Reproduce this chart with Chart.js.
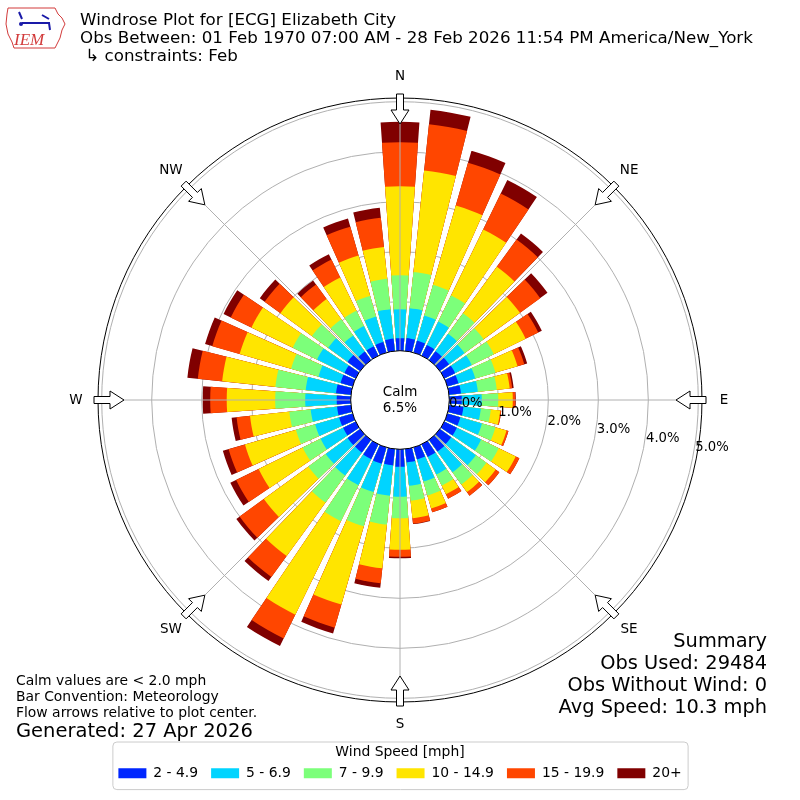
<!DOCTYPE html>
<html>
<head>
<meta charset="utf-8">
<title>Windrose Plot for [ECG] Elizabeth City</title>
<script src="https://cdn.jsdelivr.net/npm/chart.js@4.4.1/dist/chart.umd.min.js"></script>
<style>
  html, body { margin: 0; padding: 0; background: #fff; }
  #wrap { width: 800px; height: 800px; position: relative; }
</style>
</head>
<body>
<div id="wrap"><canvas id="windrose"></canvas></div>
<script>
// wind directions (degrees, meteorological), one bar each
const directions = [0, 10, 20, 30, 40, 50, 60, 70, 80, 90, 100, 110, 120, 130, 140, 150, 160, 170,
  180, 190, 200, 210, 220, 230, 240, 250, 260, 270, 280, 290, 300, 310, 320, 330, 340, 350];

const speedBins = ['2 - 4.9', '5 - 6.9', '7 - 9.9', '10 - 14.9', '15 - 19.9', '20+'];
const binColors = ['#0026ff', '#00d4ff', '#7cff7a', '#ffe500', '#ff4600', '#800000'];

// frequency (%) per direction for each speed bin
const speed2to5 = [.27, .28, .27, .26, .24, .25, .26, .25, .26, .27, .31, .29, .30, .30, .31, .30, .27, .29,
  .37, .35, .36, .35, .33, .33, .30, .30, .30, .30, .32, .27, .27, .33, .23, .23, .24, .27];
const speed5to7 = [.58, .60, .52, .52, .43, .38, .37, .35, .34, .40, .35, .45, .54, .61, .51, .39, .46, .47,
  .60, .61, .59, .58, .57, .54, .50, .50, .53, .63, .61, .46, .61, .48, .40, .45, .53, .59];
const speed7to10 = [.68, .73, .64, .58, .51, .47, .49, .42, .38, .33, .20, .28, .39, .26, .30, .25, .29, .30,
  .43, .58, .71, .80, .67, .43, .40, .40, .43, .60, .61, .57, .54, .40, .40, .34, .43, .61];
const speed10to15 = [1.78, 2.04, 1.65, 1.47, 1.15, .90, .71, .46, .26, .29, .19, .23, .38, .23, .19, .19, .27, .35,
  .63, .88, 1.63, 2.08, 1.32, 1.10, .98, 1.06, .79, .97, 1.07, 1.07, .92, .78, .50, .74, .84, .64];
const speed15to20 = [.88, .93, .89, .80, .67, .50, .28, .14, .05, .05, .02, .04, .08, .09, .09, .10, .08, .11,
  .14, .30, .48, .53, .52, .60, .50, .34, .27, .33, .49, .57, .46, .39, .36, .40, .60, .59];
const speed20plus = [.41, .29, .25, .30, .15, .18, .08, .06, .03, .01, 0, 0, 0, 0, 0, 0, 0, .01,
  .03, .09, .12, .17, .10, .08, .13, .12, .10, .15, .21, .15, .16, .12, .10, .12, .17, .20];

const ringValues = [0, 1, 2, 3, 4, 5];
const ringLabels = ['0.0%', '1.0%', '2.0%', '3.0%', '4.0%', '5.0%'];
const compassLabels = ['N', 'NE', 'E', 'SE', 'S', 'SW', 'W', 'NW'];
const calmLabel = 'Calm';
const calmPercent = '6.5%';

const titleLines = ['Windrose Plot for [ECG] Elizabeth City',
  'Obs Between: 01 Feb 1970 07:00 AM - 28 Feb 2026 11:54 PM America/New_York',
  ' \u21b3 constraints: Feb'];
const noteLines = ['Calm values are < 2.0 mph', 'Bar Convention: Meteorology', 'Flow arrows relative to plot center.'];
const generatedText = 'Generated: 27 Apr 2026';
const summaryLines = ['Summary', 'Obs Used: 29484', 'Obs Without Wind: 0', 'Avg Speed: 10.3 mph'];

const RMIN = -0.966;   // offset so that 0% sits on the calm circle
const RMAX = 5.074;
const BAR_ANGLE = 8;
const GAP_ANGLE = 2;
const FONT = '"DejaVu Sans", sans-serif';

// stacked bars: each bin drawn as cumulative total, inner bins on top
const binValues = [speed2to5, speed5to7, speed7to10, speed10to15, speed15to20, speed20plus];
const running = directions.map(() => 0);
const labels = [];
directions.forEach(d => { labels.push(d + '\u00b0', ''); });

const datasets = binValues.map((vals, b) => {
  const data = [];
  vals.forEach((v, i) => {
    running[i] += v;
    data.push(+running[i].toFixed(3), RMIN);
  });
  return {
    label: speedBins[b],
    data: data,
    backgroundColor: ctx => ctx.dataIndex % 2 ? 'rgba(0,0,0,0)' : binColors[b],
    borderWidth: 0,
    angle: ctx => ctx.dataIndex % 2 ? GAP_ANGLE : BAR_ANGLE
  };
});

function font(size, style) {
  return (style ? style + ' ' : '') + size + 'px ' + FONT;
}

function drawLogo(ctx) {
  ctx.save();
  ctx.strokeStyle = '#d23b3b';
  ctx.lineWidth = 1;
  ctx.beginPath();
  ctx.moveTo(8, 8); ctx.lineTo(55, 8); ctx.lineTo(58, 14); ctx.lineTo(62, 18);
  ctx.lineTo(65, 24); ctx.lineTo(62, 30); ctx.lineTo(60, 38); ctx.lineTo(57, 44);
  ctx.lineTo(55, 48); ctx.lineTo(14, 48); ctx.lineTo(12, 42); ctx.lineTo(8, 34);
  ctx.lineTo(6, 24); ctx.lineTo(7, 14); ctx.closePath();
  ctx.stroke();
  ctx.strokeStyle = '#1a1aa8';
  ctx.fillStyle = '#1a1aa8';
  ctx.lineWidth = 2;
  ctx.beginPath();
  ctx.moveTo(22, 23); ctx.lineTo(50, 23);
  ctx.moveTo(19, 12); ctx.lineTo(22, 19);
  ctx.moveTo(42, 15); ctx.lineTo(49, 19);
  ctx.moveTo(49, 23); ctx.lineTo(50, 30);
  ctx.stroke();
  ctx.beginPath(); ctx.arc(21, 24, 2, 0, Math.PI * 2); ctx.fill();
  ctx.fillStyle = '#d23b3b';
  ctx.font = 'italic 17px "Liberation Serif", serif';
  ctx.textAlign = 'left';
  ctx.textBaseline = 'alphabetic';
  ctx.fillText('IEM', 14, 45);
  ctx.restore();
}

const decorPlugin = {
  id: 'windroseDecor',
  beforeDraw(chart) {
    const ctx = chart.ctx;
    ctx.save();
    ctx.fillStyle = '#fff';
    ctx.fillRect(0, 0, chart.width, chart.height);
    const lg = chart.legend;
    const boxes = lg && lg.legendHitBoxes;
    if (boxes && boxes.length) {
      const last = boxes[boxes.length - 1];
      const x0 = boxes[0].left - 6;
      const x1 = last.left + last.width + 6;
      const y0 = lg.top + 3;
      const y1 = lg.bottom - 1;
      ctx.beginPath();
      ctx.roundRect(x0 + 0.5, y0 + 0.5, x1 - x0, y1 - y0, 4);
      ctx.strokeStyle = '#cccccc';
      ctx.lineWidth = 1;
      ctx.stroke();
    }
    ctx.restore();
  },
  afterDraw(chart) {
    const ctx = chart.ctx;
    const scale = chart.scales.r;
    const cx = scale.xCenter;
    const cy = scale.yCenter;
    const rOuter = scale.getDistanceFromCenterForValue(RMAX);
    const rZero = scale.getDistanceFromCenterForValue(0);

    ctx.save();
    // compass spokes
    ctx.strokeStyle = '#b0b0b0';
    ctx.lineWidth = 1;
    compassLabels.forEach((lab, i) => {
      const a = (i * 45 - 90) * Math.PI / 180;
      ctx.beginPath();
      ctx.moveTo(cx, cy);
      ctx.lineTo(cx + rOuter * Math.cos(a), cy + rOuter * Math.sin(a));
      ctx.stroke();
    });

    // calm circle
    ctx.beginPath();
    ctx.arc(cx, cy, rZero + 1, 0, Math.PI * 2);
    ctx.fillStyle = '#fff';
    ctx.fill();
    ctx.strokeStyle = '#000';
    ctx.stroke();
    ctx.fillStyle = '#000';
    ctx.font = font(13.5);
    ctx.textAlign = 'center';
    ctx.textBaseline = 'middle';
    ctx.fillText(calmLabel, cx, cy - 8);
    ctx.fillText(calmPercent, cx, cy + 8);

    // flow arrows and compass labels
    compassLabels.forEach((lab, i) => {
      const a = (i * 45 - 90) * Math.PI / 180;
      const ca = Math.cos(a), sa = Math.sin(a);
      const pt = (d, w) => [cx + d * ca - w * sa, cy + d * sa + w * ca];
      const shape = [[rOuter - 26, 0], [rOuter - 12, 9], [rOuter - 12, 3.5], [rOuter + 4, 3.5],
        [rOuter + 4, -3.5], [rOuter - 12, -3.5], [rOuter - 12, -9]];
      ctx.beginPath();
      shape.forEach((p, k) => {
        const q = pt(p[0], p[1]);
        if (k === 0) ctx.moveTo(q[0], q[1]); else ctx.lineTo(q[0], q[1]);
      });
      ctx.closePath();
      ctx.fillStyle = '#fff';
      ctx.fill();
      ctx.strokeStyle = '#000';
      ctx.lineWidth = 1;
      ctx.stroke();
      const lp = pt(rOuter + 22, 0);
      ctx.fillStyle = '#000';
      ctx.font = font(13.5);
      ctx.textAlign = 'center';
      ctx.textBaseline = 'middle';
      ctx.fillText(lab, lp[0], lp[1]);
    });

    // radial tick labels along 100 degrees
    const ta = 10 * Math.PI / 180;
    ctx.font = font(13.2);
    ctx.textAlign = 'left';
    ctx.textBaseline = 'alphabetic';
    ringValues.forEach((v, i) => {
      const d = scale.getDistanceFromCenterForValue(v);
      ctx.fillText(ringLabels[i], cx + d * Math.cos(ta) + 1.5, cy + d * Math.sin(ta) - 1);
    });

    // header
    ctx.font = font(16.7);
    titleLines.forEach((t, i) => ctx.fillText(t, 80, 25 + i * 18));
    drawLogo(ctx);

    // notes bottom-left
    ctx.font = font(13.9);
    noteLines.forEach((t, i) => ctx.fillText(t, 16, 685 + i * 16));
    ctx.font = font(19.5);
    ctx.fillText(generatedText, 16, 737);

    // summary bottom-right
    ctx.font = font(19.4);
    ctx.textAlign = 'right';
    summaryLines.forEach((t, i) => ctx.fillText(t, 767, 647 + i * 22));
    ctx.restore();
  }
};

new Chart(document.getElementById('windrose'), {
  type: 'polarArea',
  data: { labels: labels, datasets: datasets },
  options: {
    responsive: true,
    maintainAspectRatio: false,
    animation: false,
    layout: { padding: { left: 98, right: 98, top: 61.5, bottom: 9.9 } },
    scales: {
      r: {
        min: RMIN,
        max: RMAX,
        startAngle: -BAR_ANGLE / 2,
        afterBuildTicks: s => { s.ticks = ringValues.concat([RMAX]).map(v => ({ value: v })); },
        ticks: { display: false, z: 1 },
        angleLines: { display: false },
        pointLabels: { display: false },
        grid: {
          circular: true,
          lineWidth: 1,
          color: ctx => ctx.tick && ctx.tick.value >= RMAX ? '#000000' : '#b0b0b0'
        }
      }
    },
    plugins: {
      tooltip: { enabled: false },
      legend: {
        position: 'bottom',
        onClick: null,
        title: {
          display: true,
          text: 'Wind Speed [mph]',
          color: '#000',
          font: { family: FONT, size: 13.9 },
          padding: { top: 7, bottom: -9 }
        },
        labels: {
          color: '#000',
          font: { family: FONT, size: 13.9 },
          boxWidth: 28,
          boxHeight: 10,
          padding: 13,
          generateLabels: chart => chart.data.datasets.map((ds, i) => ({
            text: ds.label,
            fillStyle: binColors[i],
            strokeStyle: binColors[i],
            lineWidth: 0,
            hidden: false,
            datasetIndex: i
          }))
        }
      }
    }
  },
  plugins: [decorPlugin]
});
</script>
</body>
</html>
